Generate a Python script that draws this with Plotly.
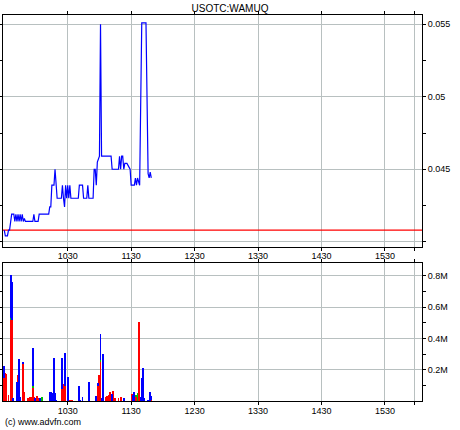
import plotly.graph_objects as go

title_text = "USOTC:WAMUQ"
credit_text = "(c) www.advfn.com"

# Price series: time in minutes after midnight, price in USD
price_times = [570, 571, 573, 574, 575, 577, 579, 580, 581, 582, 583, 584, 585, 586, 587, 588,
               589, 590, 597, 598, 599, 602, 603, 612, 613, 614, 615, 617, 618, 619, 620, 624,
               625, 626, 627, 628, 629, 630, 631, 632, 633, 640, 641, 644, 645, 648, 649, 650,
               654, 655, 656, 657, 658, 660, 661, 662, 671, 672, 678, 679, 680, 681, 682, 683,
               684, 686, 689, 690, 693, 694, 695, 696, 698, 700, 704, 706, 707, 708, 709]
price_values = [0.0408, 0.0404, 0.0404, 0.0408, 0.0408, 0.0419, 0.0419, 0.0414, 0.0419, 0.0414,
                0.0419, 0.0414, 0.0419, 0.0414, 0.0419, 0.0414, 0.0416, 0.0414, 0.0414, 0.0419,
                0.0414, 0.0414, 0.0419, 0.0419, 0.0424, 0.0424, 0.0439, 0.0439, 0.0450, 0.0439,
                0.0430, 0.0430, 0.0439, 0.0430, 0.0424, 0.0439, 0.0430, 0.0439, 0.0430, 0.0439,
                0.0430, 0.0430, 0.0439, 0.0439, 0.0430, 0.0430, 0.0439, 0.0430, 0.0430, 0.0450,
                0.0450, 0.0439, 0.0455, 0.0459, 0.0550, 0.0459, 0.0459, 0.0450, 0.0450, 0.0459,
                0.0450, 0.0459, 0.0459, 0.0450, 0.0454, 0.0454, 0.0450, 0.0439, 0.0439, 0.0444,
                0.0439, 0.0444, 0.0439, 0.0551, 0.0551, 0.0447, 0.0444, 0.0448, 0.0444]
prev_close = 0.0408

# Volume bars (shares), split by trade type
vol_times = [570, 571, 572, 574, 576, 577, 578, 582, 583, 584, 585, 588, 589, 592, 593, 594,
             595, 597, 598, 599, 601, 602, 604, 606, 613, 614, 615, 617, 618, 619, 625, 626,
             627, 630, 632, 634, 641, 642, 644, 650, 657, 659, 660, 661, 662, 663, 666, 667,
             669, 670, 672, 673, 675, 678, 680, 683, 691, 692, 693, 695, 696, 697, 699, 700,
             701, 702, 706, 708, 709]
vol_red = [146000, 180000, 175000, 43000, 520000, 520000, 0, 0, 170000, 0, 0, 240000, 58000, 20000, 20000, 30000,
           25000, 90000, 30000, 0, 35000, 20000, 0, 0, 0, 0, 0, 0, 0, 0, 80000, 110000,
           100000, 0, 10000, 10000, 0, 0, 0, 0, 0, 100000, 170000, 253000, 0, 0, 25000, 35000,
           40000, 60000, 0, 65000, 20000, 20000, 30000, 0, 45000, 0, 0, 30000, 0, 510000, 0, 0,
           0, 0, 0, 0, 10000]
vol_green = [0, 0, 0, 0, 10000, 0, 0, 0, 0, 0, 0, 0, 0, 0, 0, 0,
             0, 10000, 0, 0, 0, 0, 0, 30000, 5000, 30000, 0, 0, 0, 0, 0, 0,
             0, 0, 0, 0, 0, 0, 0, 0, 0, 0, 0, 10000, 0, 0, 0, 0,
             0, 0, 0, 0, 0, 0, 0, 0, 0, 0, 0, 10000, 50000, 0, 0, 0,
             0, 0, 0, 0, 0]
vol_blue = [80000, 0, 0, 0, 280000, 240000, 20000, 124000, 0, 270000, 30000, 6000, 0, 0, 0, 0,
            0, 243000, 0, 20000, 0, 0, 20000, 0, 55000, 30000, 55000, 280000, 50000, 10000, 200000, 0,
            210000, 155000, 0, 0, 96000, 10000, 25000, 124000, 35000, 15000, 0, 170000, 20000, 305000, 0, 0,
            0, 0, 45000, 0, 0, 0, 0, 20000, 0, 40000, 60000, 0, 0, 0, 30000, 150000,
            214000, 20000, 10000, 60000, 25000]

x_tick_vals = [630, 690, 750, 810, 870, 930, 958]
x_tick_text = ["1030", "1130", "1230", "1330", "1430", "1530", ""]
price_tick_vals = [0.04, 0.045, 0.05, 0.055]
price_tick_text = ["", "0.045", "0.05", "0.055"]
price_minor_vals = [0.0425, 0.0475, 0.0525]
vol_tick_vals = [200000, 400000, 600000, 800000]
vol_tick_text = ["0.2M", "0.4M", "0.6M", "0.8M"]
vol_minor_vals = [100000, 300000, 500000, 700000]

x_range = [568.8, 965.0]
price_range = [0.03964, 0.05564]
vol_range = [0, 884000]

GRID = "#b8c0c0"
FONT = "Liberation Sans, Arial, sans-serif"

fig = go.Figure()
fig.add_trace(go.Scatter(x=x_range, y=[prev_close, prev_close], mode="lines",
                         line=dict(color="#ff0000", width=1.2), xaxis="x", yaxis="y",
                         hoverinfo="skip", showlegend=False))
fig.add_trace(go.Scatter(x=price_times, y=price_values, mode="lines",
                         line=dict(color="#0000ff", width=1.2), xaxis="x", yaxis="y",
                         showlegend=False))
for vals, col in [(vol_red, "#ff0000"), (vol_green, "#00c000"), (vol_blue, "#0000ff")]:
    fig.add_trace(go.Bar(x=vol_times, y=vals, width=0.9, marker=dict(color=col, line=dict(width=0)),
                         xaxis="x2", yaxis="y2", showlegend=False))

axis_common = dict(showline=True, linecolor="black", linewidth=1, mirror="ticks",
                   ticks="outside", ticklen=3, tickcolor="black",
                   showgrid=True, gridcolor=GRID, gridwidth=1, zeroline=False,
                   automargin=False,
                   tickfont=dict(family=FONT, size=9, color="black"))

fig.update_layout(
    width=460, height=430,
    margin=dict(l=3, r=38, t=15, b=29),
    paper_bgcolor="white", plot_bgcolor="white",
    barmode="stack", bargap=0,
    title=dict(text=title_text, x=0.5, xanchor="center", y=1 - 8 / 430, yanchor="middle",
               font=dict(family=FONT, size=10, color="black")),
    xaxis=dict(domain=[0, 1], range=x_range, anchor="y", tickmode="array",
               tickvals=x_tick_vals, ticktext=x_tick_text, ticklabelstandoff=-3, **axis_common),
    yaxis=dict(domain=[0.399, 1], range=price_range, side="right", anchor="x", tickmode="array",
               tickvals=price_tick_vals, ticktext=price_tick_text,
               minor=dict(tickmode="array", tickvals=price_minor_vals, ticks="outside",
                          ticklen=3, tickcolor="black", showgrid=False),
               **axis_common),
    xaxis2=dict(domain=[0, 1], range=x_range, anchor="y2", tickmode="array",
                tickvals=x_tick_vals, ticktext=x_tick_text, ticklabelstandoff=-2, **axis_common),
    yaxis2=dict(domain=[0, 0.3583], range=vol_range, side="right", anchor="x2", tickmode="array",
                tickvals=vol_tick_vals, ticktext=vol_tick_text,
                minor=dict(tickmode="array", tickvals=vol_minor_vals, ticks="outside",
                           ticklen=3, tickcolor="black", showgrid=False),
                **axis_common),
    annotations=[dict(text=credit_text, xref="paper", yref="paper", x=0, y=-(21 / 386),
                      xanchor="left", yanchor="middle", showarrow=False,
                      font=dict(family=FONT, size=9, color="black"))],
)

fig.write_html("out.html", config={"displayModeBar": False},
               post_script="document.body.style.margin='0';document.body.style.overflow='hidden';")
